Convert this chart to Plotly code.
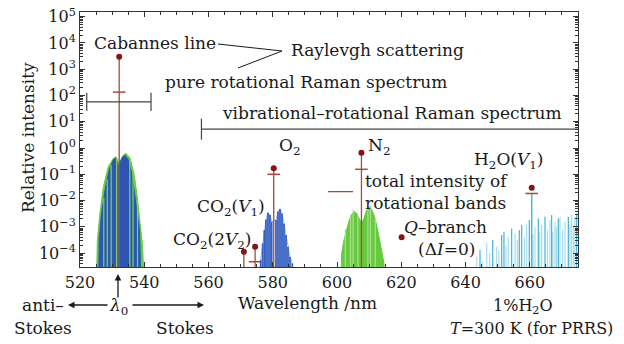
import plotly.graph_objects as go

# ---------------- data (wavelength in nm, intensity as log10) ----------------
# pure rotational Raman band (total, green) and inner part (blue)
rot_green_wl = [524.98, 525.4, 526.2, 527.3, 528.8, 530.4, 531.2, 532.2, 533.5, 534.3, 535.6, 536.8, 537.8, 538.7, 539.5, 540.2]
rot_green_lg = [-6.0, -3.50, -2.49, -1.47, -0.71, -0.39, -0.33, -0.58, -0.27, -0.20, -0.39, -0.96, -1.85, -2.87, -3.76, -6.0]
rot_blue_wl = [525.7, 526.0, 526.7, 527.8, 529.1, 530.4, 531.1, 532.0, 533.1, 534.0, 535.0, 536.1, 537.4, 538.5, 539.2]
rot_blue_lg = [-6.0, -3.50, -2.49, -1.60, -0.84, -0.45, -0.39, -0.71, -0.36, -0.27, -0.45, -0.96, -2.11, -3.13, -6.0]
rot_gap_wl = [527.4, 528.5, 529.7, 531.4, 535.5, 536.5, 537.9]
rot_gap_lg = [-1.9, -1.2, -0.65, -0.42, -0.47, -0.85, -2.0]

# O2 vibrational-rotational band lines
o2_wl = [576.24, 576.86, 577.38, 577.89, 578.51, 579.13, 579.65, 581.00, 581.62, 582.25, 582.87, 583.49, 584.11, 584.74, 585.36, 586.08]
o2_lg = [-4.26, -3.63, -3.12, -2.72, -2.46, -2.55, -2.81, -2.74, -2.42, -2.32, -2.49, -2.87, -3.31, -3.76, -4.14, -4.39]

# N2 vibrational-rotational band envelope
n2_wl = [600.92, 601.44, 602.17, 603.00, 603.82, 604.65, 605.38, 606.10, 606.93, 607.66, 608.39, 609.22, 610.05, 610.77, 611.50, 612.33, 613.16, 613.88, 614.61, 614.93]
n2_lg = [-6.0, -4.01, -3.50, -3.06, -2.74, -2.51, -2.42, -2.49, -2.72, -2.87, -2.68, -2.36, -2.26, -2.34, -2.55, -2.93, -3.44, -3.95, -4.39, -6.0]
n2_light_wl = [602.6, 604.2, 605.0, 606.5, 609.6, 610.4, 611.9]
n2_light_lg = [-3.1, -2.55, -2.35, -2.5, -2.25, -2.2, -2.65]

# H2O vibrational-rotational lines
h2o_dark_wl = [644.50, 648.45, 651.25, 651.96, 654.35, 656.73, 657.46, 659.84, 662.65, 664.72, 666.80, 668.87, 671.99, 674.58]
h2o_dark_lg = [-3.88, -3.50, -3.31, -3.19, -3.06, -3.12, -2.93, -2.74, -2.68, -2.62, -2.55, -2.68, -2.62, -2.49]
h2o_light_wl = [643.47, 645.2, 646.58, 647.5, 649.69, 650.4, 652.6, 653.31, 655.39, 656.1, 658.3, 659.02, 661.0, 661.61, 663.1, 663.69,
                665.5, 666.28, 667.2, 667.84, 668.3, 669.39, 670.2, 670.95, 672.5, 673.02, 673.6, 674.06]
h2o_light_lg = [-4.14, -4.3, -3.63, -4.0, -3.76, -3.9, -3.7, -3.38, -3.25, -3.5, -3.4, -2.87, -3.3, -3.0, -3.2, -2.93,
                -3.1, -2.74, -3.2, -2.81, -3.0, -2.62, -3.1, -2.81, -2.9, -2.55, -3.0, -2.62]

# Q-branch / Cabannes lines: position, Q-branch intensity (dot), total band intensity (dash)
q_names = ["Cabannes", "CO2(2V2)", "CO2(V1)", "O2", "N2", "H2O(V1)"]
q_wl = [532.2, 571.0, 574.5, 580.3, 607.6, 660.6]
q_dot_lg = [3.48, -3.95, -3.76, -0.77, -0.18, -1.51]
q_tot_wl = [532.2, 574.5, 580.3, 607.6, 660.6]
q_tot_lg = [2.13, -4.33, -1.00, -0.81, -1.73]
h2o_main_lg = -1.73

# spectral-range brackets
prr_range = [522.1, 542.1]
prr_level = 1.76
vrr_range = [557.8, 676.0]
vrr_level = 0.72

# legend samples
legend_tot_wl = [597.2, 605.0]
legend_tot_lg = -1.66
legend_q_wl = 620.1
legend_q_lg = -3.40

ytick_exp = [-4, -3, -2, -1, 0, 1, 2, 3, 4, 5]
xtick_vals = [520, 540, 560, 580, 600, 620, 640, 660]

# ---------------- helpers ----------------
def P(v):
    return [None if a is None else 10 ** a for a in v]

def vsegs(wls, lgs, base=-6.0):
    xs, ys = [], []
    for w, l in zip(wls, lgs):
        xs += [w, w, None]
        ys += [10 ** base, 10 ** l, None]
    return xs, ys

FONT = "DejaVu Serif"
RED_LINE = "#a8483c"
RED_DOT = "#861414"
GREEN = "#66ca3e"
LIGHT_GREEN = "#a9e28a"
BLUE = "#2b56b4"
CYAN = "#3fb6d4"
LIGHT_CYAN = "#a9dcea"

fig = go.Figure()

# rotational band
fig.add_trace(go.Scatter(x=rot_green_wl, y=P(rot_green_lg), fill="toself", fillcolor=GREEN,
                         line=dict(color=GREEN, width=1), mode="lines", hoverinfo="skip"))
fig.add_trace(go.Scatter(x=rot_blue_wl, y=P(rot_blue_lg), fill="toself", fillcolor=BLUE,
                         line=dict(color=BLUE, width=1), mode="lines", hoverinfo="skip"))
gx, gy = vsegs(rot_gap_wl, rot_gap_lg)
fig.add_trace(go.Scatter(x=gx, y=gy, mode="lines", line=dict(color="#7fd45a", width=1.2), hoverinfo="skip"))

# O2 band
ox, oy = vsegs(o2_wl, o2_lg)
fig.add_trace(go.Scatter(x=o2_wl, y=P(o2_lg), mode="lines", line=dict(color="#9fb4e6", width=1),
                         hoverinfo="skip"))
fig.add_trace(go.Scatter(x=ox, y=oy, mode="lines", line=dict(color="#3560c2", width=1.8), hoverinfo="skip"))

# N2 band
fig.add_trace(go.Scatter(x=n2_wl, y=P(n2_lg), fill="toself", fillcolor=GREEN,
                         line=dict(color=GREEN, width=1), mode="lines", hoverinfo="skip"))
nx, ny = vsegs(n2_light_wl, n2_light_lg)
fig.add_trace(go.Scatter(x=nx, y=ny, mode="lines", line=dict(color=LIGHT_GREEN, width=1.2), hoverinfo="skip"))

# H2O lines
hx, hy = vsegs(h2o_light_wl, h2o_light_lg)
fig.add_trace(go.Scatter(x=hx, y=hy, mode="lines", line=dict(color=LIGHT_CYAN, width=1.2), hoverinfo="skip"))
hx, hy = vsegs(h2o_dark_wl, h2o_dark_lg)
fig.add_trace(go.Scatter(x=hx, y=hy, mode="lines", line=dict(color=CYAN, width=1.2), hoverinfo="skip"))
hx, hy = vsegs([q_wl[-1]], [h2o_main_lg])
fig.add_trace(go.Scatter(x=hx, y=hy, mode="lines", line=dict(color=CYAN, width=1.4), hoverinfo="skip"))

# red Q-branch lines (not for H2O, drawn in cyan)
rx, ry = vsegs(q_wl[:-1], q_dot_lg[:-1])
fig.add_trace(go.Scatter(x=rx, y=ry, mode="lines", line=dict(color=RED_LINE, width=1.3), hoverinfo="skip"))
# total intensity dashes
fig.add_trace(go.Scatter(x=q_tot_wl, y=P(q_tot_lg), mode="markers",
                         marker=dict(symbol="line-ew", size=9, line=dict(color=RED_LINE, width=1.5)),
                         hoverinfo="skip"))
# Q-branch dots
fig.add_trace(go.Scatter(x=q_wl + [legend_q_wl], y=P(q_dot_lg + [legend_q_lg]), mode="markers",
                         marker=dict(color=RED_DOT, size=6), hoverinfo="skip"))
# legend dash for total intensity
fig.add_trace(go.Scatter(x=legend_tot_wl, y=P([legend_tot_lg, legend_tot_lg]), mode="lines",
                         line=dict(color=RED_LINE, width=1.3), hoverinfo="skip"))

# brackets
fig.add_trace(go.Scatter(x=prr_range, y=P([prr_level, prr_level]), mode="lines+markers",
                         line=dict(color="#444", width=1.2),
                         marker=dict(symbol="line-ns", size=13, line=dict(color="#444", width=1.2)),
                         hoverinfo="skip"))
fig.add_trace(go.Scatter(x=vrr_range, y=P([vrr_level, vrr_level]), mode="lines",
                         line=dict(color="#444", width=1.2), hoverinfo="skip"))
fig.add_trace(go.Scatter(x=vrr_range[:1], y=P([vrr_level]), mode="markers",
                         marker=dict(symbol="line-ns", size=15, line=dict(color="#444", width=1.2)),
                         hoverinfo="skip"))

# ---------------- layout ----------------
L, R, T, B = 80, 46, 12, 77
W, H = 624, 344
PW, PH = W - L - R, H - T - B

def px(x):
    return (x - L) / PW

def py(y):
    return (H - B - y) / PH

annots = []

def txt(text, x, y, size=17, xanchor="center", **kw):
    annots.append(dict(text=text, x=px(x), y=py(y), xref="paper", yref="paper", showarrow=False,
                       xanchor=xanchor, yanchor="middle", font=dict(family=FONT, size=size, color="#1a1a1a"), **kw))

txt("Cabannes line", 155, 43)
txt("Raylevgh scattering", 289, 50, xanchor="left")
txt("pure rotational Raman spectrum", 306, 82)
txt("vibrational–rotational Raman spectrum", 392, 113)
txt("O<sub>2</sub>", 290, 146)
txt("N<sub>2</sub>", 379, 146)
txt("CO<sub>2</sub>(<i>V</i><sub>1</sub>)", 231, 207)
txt("CO<sub>2</sub>(2<i>V</i><sub>2</sub>)", 212, 240)
txt("total intensity of", 363, 181, xanchor="left")
txt("rotational bands", 363, 203, xanchor="left")
txt("<i>Q</i>–branch", 445, 227)
txt("(Δ<i>I</i>=0)", 446, 249)
txt("H<sub>2</sub>O(<i>V</i><sub>1</sub>)", 508, 161)
txt("Wavelength /nm", 307, 303)
txt("Relative intensity", 28, 138, textangle=-90)
txt("anti–", 43, 305)
txt("Stokes", 43, 328)
txt("Stokes", 185, 328)
txt("<i>λ</i><sub>0</sub>", 118, 306)
txt("1%H<sub>2</sub>O", 523, 307, size=16)
txt("<i>T</i>=300 K (for PRRS)", 531, 328, size=16)

def arrow(hx_, hy_, tx_, ty_):
    annots.append(dict(text="", x=px(hx_), y=py(hy_), xref="paper", yref="paper", showarrow=True,
                       ax=tx_ - hx_, ay=ty_ - hy_, arrowhead=2, arrowsize=1, arrowwidth=1.3,
                       arrowcolor="#1a1a1a"))

arrow(118, 274, 118, 299)
arrow(68, 305, 109, 305)
arrow(204, 305, 131, 305)

shapes = [
    dict(type="line", xref="paper", yref="paper", x0=px(218), y0=py(44), x1=px(282), y1=py(51),
         line=dict(color="#1a1a1a", width=1)),
    dict(type="line", xref="paper", yref="paper", x0=px(238), y0=py(68), x1=px(282), y1=py(51),
         line=dict(color="#1a1a1a", width=1)),
]

axis_font = dict(family=FONT, size=16, color="#1a1a1a")
fig.update_layout(
    width=W, height=H, autosize=False,
    margin=dict(l=L, r=R, t=T, b=B, autoexpand=False),
    paper_bgcolor="white", plot_bgcolor="white",
    showlegend=False,
    annotations=annots, shapes=shapes,
    xaxis=dict(range=[520, 675], tickmode="array", tickvals=xtick_vals, automargin=False,
               ticks="inside", ticklen=5, tickcolor="#333", showline=True, linecolor="#333", linewidth=1,
               mirror="ticks", showgrid=False, zeroline=False, tickfont=axis_font,
               minor=dict(dtick=5, tick0=0, ticks="inside", ticklen=3, tickcolor="#333", showgrid=False),
               ticklabelstandoff=1),
    yaxis=dict(type="log", range=[-4.53, 5.18], tickmode="array", tickvals=[10 ** e for e in ytick_exp],
               ticktext=["10<sup>%s</sup>" % (str(e).replace("-", "−")) for e in ytick_exp],
               automargin=False,
               ticks="inside", ticklen=5, tickcolor="#333", showline=True, linecolor="#333", linewidth=1,
               mirror="ticks", showgrid=False, zeroline=False, tickfont=axis_font,
               minor=dict(dtick="D1", ticks="inside", ticklen=3, tickcolor="#333", showgrid=False)),
)

fig.write_html("out.html", config={"displayModeBar": False},
               post_script="document.body.style.margin='0px';document.body.style.overflow='hidden';")
